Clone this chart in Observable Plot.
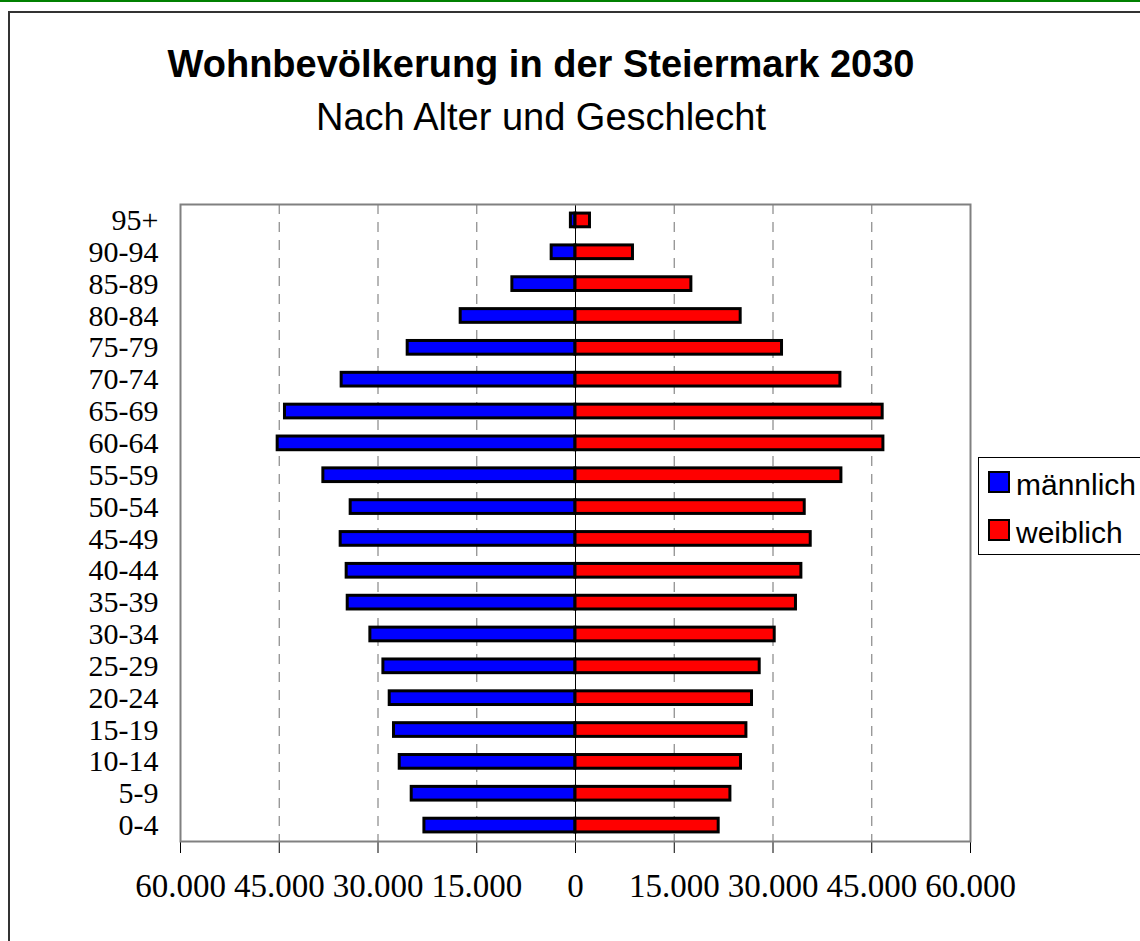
<!DOCTYPE html>
<html>
<head>
<meta charset="utf-8">
<script src="https://cdn.jsdelivr.net/npm/d3@7"></script>
<script src="https://cdn.jsdelivr.net/npm/@observablehq/plot@0.6"></script>
<style>
  html, body { margin: 0; padding: 0; background: #fff; }
  #wrap { position: relative; width: 1140px; height: 941px; overflow: hidden; background: #fff; }
  #greenline { position: absolute; left: 0; top: 0; width: 1140px; height: 2px; background: #008000; }
  #outer { position: absolute; left: 8px; top: 11px; width: 1200px; height: 1000px; border: 2px solid #333; box-sizing: border-box; }
  #chart { position: absolute; left: 0; top: 0; }
  #deco { position: absolute; left: 0; top: 0; pointer-events: none; }
</style>
</head>
<body>
<div id="wrap">
  <div id="greenline"></div>
  <div id="outer"></div>
  <div id="chart"></div>
  <svg id="deco" width="1140" height="941"></svg>
</div>
<script>
// ---- Data ----
const ageGroups = ["0-4","5-9","10-14","15-19","20-24","25-29","30-34","35-39","40-44","45-49",
                   "50-54","55-59","60-64","65-69","70-74","75-79","80-84","85-89","90-94","95+"];
const maleValues   = [22950, 24880, 26700, 27570, 28220, 29180, 31160, 34600, 34760, 35670,
                      34150, 38300, 45240, 44130, 35520, 25490, 17440, 9590, 3620, 700];
const femaleValues = [21750, 23530, 25140, 25960, 26810, 27980, 30260, 33490, 34310, 35730,
                      34820, 40390, 46770, 46660, 40240, 31370, 25090, 17600, 8730, 2200];
const xTickValues = [-60000, -45000, -30000, -15000, 0, 15000, 30000, 45000, 60000];
const gridValues  = [-45000, -30000, -15000, 15000, 30000, 45000];
const seriesNames = ["männlich", "weiblich"];
const seriesColors = ["#0000ff", "#ff0000"];
const titleText = "Wohnbevölkerung in der Steiermark 2030";
const subtitleText = "Nach Alter und Geschlecht";

const male = ageGroups.map((age, i) => ({age, value: -maleValues[i]}));
const female = ageGroups.map((age, i) => ({age, value: femaleValues[i]}));

const fmt = d => Math.abs(d).toLocaleString("de-DE");

const chart = Plot.plot({
  width: 1140,
  height: 941,
  marginLeft: 180,
  marginRight: 170,
  marginTop: 204,
  marginBottom: 100,
  style: {
    fontFamily: "'Liberation Serif', 'Times New Roman', serif",
    fontSize: "30px",
    color: "#000",
    background: "transparent",
    overflow: "visible"
  },
  x: {
    domain: [-60000, 60000],
    ticks: xTickValues,
    tickFormat: fmt,
    tickSize: 12,
    tickPadding: 20,
    label: null
  },
  y: {
    domain: ageGroups.slice().reverse(),
    paddingInner: 0.57,
    paddingOuter: 0.285,
    round: false,
    tickSize: 0,
    tickPadding: 22,
    label: null
  },
  marks: [
    Plot.ruleX(gridValues, {stroke: "#888", strokeWidth: 1.2, strokeDasharray: "10,8"}),
    Plot.barX(male, {x: "value", y: "age", fill: seriesColors[0], stroke: "#000", strokeWidth: 3}),
    Plot.barX(female, {x: "value", y: "age", fill: seriesColors[1], stroke: "#000", strokeWidth: 3}),
    Plot.ruleX([0], {stroke: "#000", strokeWidth: 1}),
    Plot.frame({stroke: "#808080", strokeWidth: 2})
  ]
});
document.getElementById("chart").appendChild(chart);

// larger, slightly taller x tick labels as in the reference
d3.select(chart).selectAll("g[aria-label^='x-axis']").attr("font-size", 33)
  .selectAll("text").attr("font-size", 33);

// ---- Title, subtitle and legend ----
const deco = d3.select("#deco");
deco.append("text").attr("x", 541).attr("y", 77).attr("text-anchor", "middle")
  .attr("font-family", "'Liberation Sans', Arial, sans-serif").attr("font-weight", "bold")
  .attr("font-size", 38).attr("fill", "#000").text(titleText);
deco.append("text").attr("x", 541).attr("y", 130).attr("text-anchor", "middle")
  .attr("font-family", "'Liberation Sans', Arial, sans-serif")
  .attr("font-size", 38).attr("fill", "#000").text(subtitleText);

deco.append("rect").attr("x", 978.5).attr("y", 457.5).attr("width", 200).attr("height", 97)
  .attr("fill", "#fff").attr("stroke", "#000").attr("stroke-width", 1);
seriesNames.forEach((name, i) => {
  const y0 = 472 + i * 48;
  deco.append("rect").attr("x", 989).attr("y", y0).attr("width", 20).attr("height", 20)
    .attr("fill", seriesColors[i]).attr("stroke", "#000").attr("stroke-width", 2);
  deco.append("text").attr("x", 1016).attr("y", y0 + 23)
    .attr("font-family", "'Liberation Sans', Arial, sans-serif")
    .attr("font-size", 30).attr("fill", "#000").text(name);
});
</script>
</body>
</html>
